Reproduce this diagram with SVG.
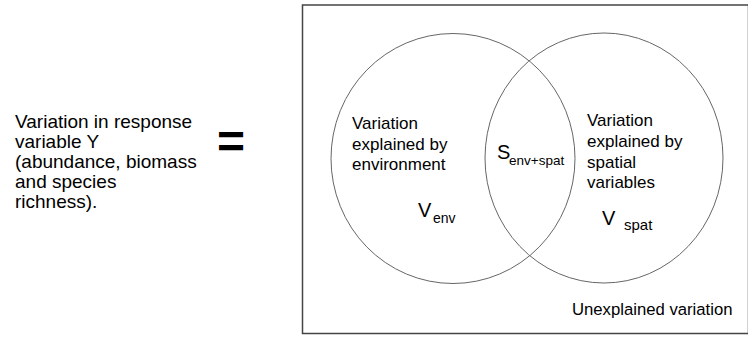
<svg xmlns="http://www.w3.org/2000/svg" width="748" height="339" viewBox="0 0 748 339">
<style>
text{font-family:"Liberation Sans",Arial,sans-serif;fill:#000}
.lbl{font-size:19px}
.in{font-size:17px}
.big{font-size:20px}
.sub{font-size:14px}
.venn{fill:none;stroke:#666;stroke-width:1}
</style>
<rect width="748" height="339" fill="#fff"/>
<g id="left-label">
<text class="lbl" x="15" y="128">Variation in response</text>
<text class="lbl" x="15" y="148">variable Y</text>
<text class="lbl" x="15" y="168">(abundance, biomass</text>
<text class="lbl" x="15" y="188">and species</text>
<text class="lbl" x="15" y="208">richness).</text>
</g>
<g id="equals">
<text x="217" y="158" style="font-size:48px;font-weight:bold">=</text>
</g>
<g id="frame">
<rect x="302.5" y="5" width="446" height="328.5" fill="none" stroke="#444" stroke-width="1.5"/>
</g>
<g id="env-circle">
<ellipse class="venn" cx="453" cy="158.5" rx="122" ry="125"/>
<text class="in" x="352" y="129">Variation</text>
<text class="in" x="352" y="149.5">explained by</text>
<text class="in" x="352" y="170">environment</text>
<text x="418" y="217" class="big">V<tspan class="sub" x="433" y="223">env</tspan></text>
</g>
<g id="spat-circle">
<ellipse class="venn" cx="604" cy="158" rx="119" ry="125"/>
<text class="in" x="587" y="126">Variation</text>
<text class="in" x="587" y="147">explained by</text>
<text class="in" x="587" y="167.5">spatial</text>
<text class="in" x="587" y="188">variables</text>
<text x="602" y="225" class="big">V<tspan style="font-size:15px" x="624" y="230">spat</tspan></text>
</g>
<g id="overlap">
<text x="497" y="159" class="big">S<tspan style="font-size:13.5px" x="509" y="165">env+spat</tspan></text>
</g>
<g id="unexplained">
<text class="in" x="572" y="315" style="font-size:16.7px">Unexplained variation</text>
</g>
<g id="connectors"></g>
</svg>
